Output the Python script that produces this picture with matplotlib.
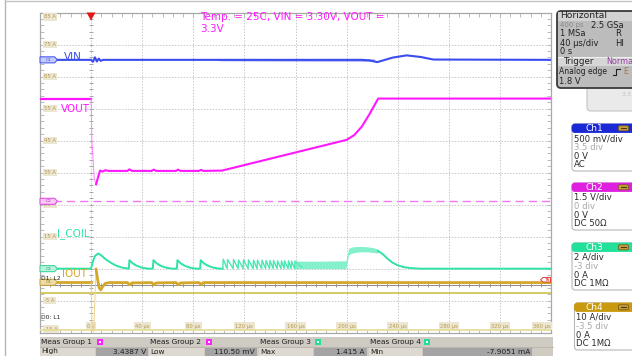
import matplotlib
matplotlib.use('Agg')
import matplotlib.pyplot as plt
from matplotlib.patches import Rectangle, FancyBboxPatch, Polygon
import numpy as np

plt.rcParams['font.family'] = ['DejaVu Sans']

# ---------------- data (time in µs, level in screen units labelled "A") ----------------
time_ticks = [0, 40, 80, 120, 160, 200, 240, 280, 320, 360]
time_labels = ['0 s', '40 µs', '80 µs', '120 µs', '160 µs', '200 µs',
               '240 µs', '280 µs', '320 µs', '360 µs']
level_ticks = [85, 75, 65, 55, 45, 35, 25, 15, 5, -5, -15]
level_labels = ['85 A', '75 A', '65 A', '55 A', '45 A', '35 A', '25 A',
                '15 A', '5 A', '-5 A', '-15 A']

# Ch1 VIN
vin_t = [-40, 0, 1.5, 3.0, 4.5, 6.0, 7.5, 9.5, 212, 218, 224, 236, 247, 258, 268, 360]
vin_v = [70.2, 70.2, 69.6, 71.0, 69.7, 70.6, 69.9, 70.2, 70.2, 70.0, 69.5, 70.9,
         71.6, 71.1, 70.3, 70.2]
vin_band_t = [100, 150, 200, 215, 222]
vin_band_lo = [69.9, 69.8, 69.75, 69.75, 69.8]
vin_band_hi = [70.5, 70.6, 70.65, 70.65, 70.5]

# Ch2 VOUT
vout_pre_t = [-40, 0]
vout_pre_v = [57.9, 57.9]
vout_edge_t = [0, 0.6, 2.5, 3.9]
vout_edge_v = [57.9, 45.0, 33.0, 31.3]
vout_t = [3.9, 5.5, 7.0, 9.0, 11.0, 14, 28.5, 30, 32, 47.5, 49, 51, 66.5, 68, 70,
          84.5, 86, 88, 102.5, 200, 206, 212, 218, 224.7, 360]
vout_v = [31.3, 33.6, 35.6, 35.3, 35.7, 35.5, 35.5, 36.0, 35.5, 35.5, 35.9, 35.5,
          35.5, 35.9, 35.5, 35.5, 35.8, 35.5, 35.6, 45.2, 46.7, 49.4, 53.3, 58.1, 58.1]
vout_ref_level = 26.0

# Ch3 I_COIL
coil_hump_t = [-40, 0, 1.2, 3.0, 5.5, 8, 11, 15, 19, 24, 29.4]
coil_hump_v = [4.95, 4.95, 7.0, 8.9, 9.7, 9.1, 8.0, 6.9, 6.0, 5.3, 4.95]
coil_tooth_t = [29.5, 48.3, 67.1, 85.3]
tooth_shape_dt = [0, 0.5, 3, 6, 10, 15]
tooth_shape_v = [4.95, 7.6, 6.6, 5.9, 5.3, 4.95]
fast_tooth_t = [103.1, 106.5, 111.2, 115.1, 119.0, 122.9, 126.8, 129.9, 133.5,
                136.6, 139.7, 142.5, 145.6, 148.7, 151.1, 154.2, 156.6, 159.3]
fast_tooth_peak = [7.9, 7.8, 7.8, 7.7, 7.7, 7.7, 7.6, 7.6, 7.6, 7.5, 7.5, 7.5,
                   7.4, 7.4, 7.4, 7.4, 7.3, 7.3]
coil_base = 4.95
coil_band_t = [159.3, 165, 180, 199.5, 201.5, 205, 210, 216, 221, 224.5]
coil_band_lo = [4.95, 4.95, 4.95, 4.95, 9.3, 9.9, 10.2, 10.2, 10.0, 9.8]
coil_band_hi = [7.4, 7.3, 7.3, 7.4, 11.3, 11.8, 11.9, 11.8, 11.5, 11.0]
coil_tail_t = [224.5, 228, 232, 236, 240, 245, 250, 258, 360]
coil_tail_v = [10.5, 9.6, 8.1, 6.8, 6.0, 5.4, 5.15, 4.95, 4.95]

# Ch4 IOUT
iout_pre_t = [-40, 0]
iout_pre_v = [0.7, 0.7]
iout_edge_t = [0, 0.8, 2.0, 3.9]
iout_edge_v = [0.7, -14.6, -14.6, 4.8]
iout_t = [3.9, 5.0, 6.3, 7.5, 9.0, 11, 14, 28.5, 30, 32, 47.5, 49, 51, 66.5, 68, 70,
          84.5, 86, 88, 360]
iout_v = [4.8, 1.8, -1.0, -1.7, -0.7, 0.3, 0.6, 0.6, -0.1, 0.5, 0.6, -0.1, 0.5, 0.6,
          -0.1, 0.5, 0.6, 0.0, 0.6, 0.6]

# digital lines
d1_level = -2.6
d0_level = -14.3

# panel texts
horiz_rows = [('400 ps', '2.5 GSa'), ('1 MSa', 'R'), ('40 µs/div', 'HI'), ('0 s', '')]
channels = [
    ('Ch1', '#1a28d6', ['500 mV/div', '3.5 div', '0 V', 'AC']),
    ('Ch2', '#e020e0', ['1.5 V/div', '0 div', '0 V', 'DC 50Ω']),
    ('Ch3', '#22e09a', ['2 A/div', '-3 div', '0 A', 'DC 1MΩ']),
    ('Ch4', '#c9990f', ['10 A/div', '-3.5 div', '0 A', 'DC 1MΩ']),
]
meas_groups = ['Meas Group 1', 'Meas Group 2', 'Meas Group 3', 'Meas Group 4']
meas_names = ['High', 'Low', 'Max', 'Min']
meas_values = ['3.4387 V', '110.50 mV', '1.415 A', '-7.9051 mA']

# ---------------- colours ----------------
C_VIN = '#3a4cee'
C_VOUT = '#ff18ff'
C_COIL = '#2fe3a3'
C_IOUT = '#d4a62a'
C_D1 = '#c9bd3c'
C_D0 = '#e6dd9c'

W, H = 632, 356
fig = plt.figure(figsize=(W / 100, H / 100), dpi=100)
fig.patch.set_facecolor('white')

ax = fig.add_axes([40 / W, 1 - 332.5 / H, 511 / W, 320 / H])
ax.set_xlim(-40, 360)
ax.set_ylim(-15, 85)
ax.set_facecolor('white')
ax.set_xticks(np.arange(-40, 361, 40))
ax.set_yticks(np.arange(-15, 86, 10))
ax.set_xticks(np.arange(-40, 361, 8), minor=True)
ax.set_yticks(np.arange(-15, 86, 2), minor=True)
ax.tick_params(which='both', direction='in', length=3, color='#b0b0b0', width=0.6,
               labelbottom=False, labelleft=False, top=True, right=True)
ax.grid(True, which='major', color='#c8c8c8', lw=0.7, ls=(0, (1.5, 1.5)))
for s in ax.spines.values():
    s.set_color('#a8a8a8')
    s.set_linewidth(0.9)

# crosshair with minor ticks
mx = np.arange(-40, 361, 8)
ax.axhline(0, color='#8c8c8c', lw=0.7, zorder=2)
ax.plot(mx, np.zeros_like(mx), ls='none', marker='|', ms=3, mew=0.6, color='#8c8c8c', zorder=2)
my = np.arange(-15, 86, 2)
ax.plot(np.zeros_like(my), my, ls='none', marker='_', ms=3, mew=0.6, color='#999999', zorder=2)

# axis labels inside the grid
lab_kw = dict(fontsize=3.8, color='#b59a55', zorder=3,
              bbox=dict(boxstyle='square,pad=0.25', fc='#ece5cf', ec='none'))
for lv, lb in zip(level_ticks, level_labels):
    ax.text(-36.8, min(max(lv, -14.0), 83.6), lb, ha='left', va='center', **lab_kw)
for tv, tl in zip(time_ticks, time_labels):
    ax.text(tv, -13.0, tl, ha='right' if tv == 360 else 'center', va='center', **lab_kw)

# digital lines
ax.axhline(d1_level, color=C_D1, lw=1.1, zorder=3)
ax.axhline(d0_level, color=C_D0, lw=1.3, zorder=3)

# VIN
ax.fill_between(vin_band_t, vin_band_lo, vin_band_hi, color='#6a78f2', alpha=0.6, lw=0, zorder=4)
ax.plot(vin_t, vin_v, color=C_VIN, lw=1.5, zorder=5)

# VOUT
ax.axhline(vout_ref_level, color='#f078f0', lw=1.0, dashes=(6, 3.5), zorder=4)
ax.plot(vout_pre_t, vout_pre_v, color=C_VOUT, lw=1.6, zorder=5)
ax.plot(vout_edge_t, vout_edge_v, color='#ff80ff', lw=0.7, zorder=5)
ax.plot(vout_t, vout_v, color=C_VOUT, lw=1.5, zorder=5)

# I_COIL
coil_t = list(coil_hump_t)
coil_v = list(coil_hump_v)
for t0 in coil_tooth_t:
    for dt, v in zip(tooth_shape_dt, tooth_shape_v):
        coil_t.append(t0 + dt)
        coil_v.append(v)
coil_t.append(fast_tooth_t[0])
coil_v.append(coil_base)
ax.plot(coil_t, coil_v, color=C_COIL, lw=1.4, zorder=5)
fast_t, fast_v = [], []
for t0, pk in zip(fast_tooth_t, fast_tooth_peak):
    fast_t += [t0, t0 + 0.3]
    fast_v += [coil_base, pk]
fast_t.append(coil_band_t[1])
fast_v.append(coil_base + 0.4)
ax.plot(fast_t, fast_v, color='#4be8b2', lw=1.0, zorder=5)
ax.fill_between(coil_band_t, coil_band_lo, coil_band_hi, color='#5cebbb', alpha=0.75, lw=0, zorder=5)
ax.plot(coil_tail_t, coil_tail_v, color=C_COIL, lw=1.4, zorder=5)

# IOUT
ax.plot(iout_pre_t, iout_pre_v, color=C_IOUT, lw=2.0, zorder=6)
ax.plot(iout_edge_t, iout_edge_v, color='#ecd48a', lw=0.7, zorder=6)
ax.plot(iout_t, iout_v, color=C_IOUT, lw=2.0, zorder=6)

# channel markers on the left edge
def chan_marker(level, label, fc, ec, tc):
    pts = [(-40, level - 0.95), (-28.6, level - 0.95), (-26.3, level),
           (-28.6, level + 0.95), (-40, level + 0.95)]
    ax.add_patch(Polygon(pts, closed=True, fc=fc, ec=ec, lw=0.7, zorder=8, clip_on=False))
    ax.text(-33.5, level, label, fontsize=3.2, color=tc, ha='center', va='center', zorder=9)

chan_marker(vin_v[0], 'C1', '#c4cafa', '#3a4cee', '#3a4cee')
chan_marker(vout_ref_level, 'C2', '#f8c8f8', '#e040e0', '#c020c0')
chan_marker(coil_base, 'C3', '#b8f2dc', '#2fd598', '#20a070')
chan_marker(iout_pre_v[0], 'C4', '#ecdcaa', '#c9a030', '#a07a10')

# trace names
ax.text(-21.0, vin_v[0] + 1.0, 'VIN', color=C_VIN, fontsize=7.5, va='center', ha='left', zorder=9)
ax.text(-24.0, 55.0, 'VOUT', color=C_VOUT, fontsize=7.5, va='center', ha='left', zorder=9)
ax.text(-26.5, 15.8, 'I_COIL', color=C_COIL, fontsize=7.5, va='center', ha='left', zorder=9)
ax.text(-22.8, 3.4, 'IOUT', color=C_IOUT, fontsize=7.5, va='center', ha='left', zorder=9)
ax.text(-39.5, 1.9, 'D1: L2', color='#202020', fontsize=4.3, va='center', ha='left', zorder=9)
ax.text(-39.5, -10.2, 'D0: L1', color='#202020', fontsize=4.3, va='center', ha='left', zorder=9)
ax.text(85.5, 81.7, 'Temp. = 25C, VIN = 3.30V, VOUT =\n3.3V', color=C_VOUT, fontsize=7.5,
        va='center', ha='left', linespacing=1.15, zorder=9)

# ---------------- overlay in pixel coordinates ----------------
ov = fig.add_axes([0, 0, 1, 1], zorder=5)
ov.set_xlim(0, W)
ov.set_ylim(H, 0)
ov.axis('off')


def box(x0, y0, x1, y1, fc, ec='none', lw=0.8, r=0, z=1):
    if r:
        p = FancyBboxPatch((x0, y0), x1 - x0, y1 - y0,
                           boxstyle=f'round,pad=0,rounding_size={r}',
                           fc=fc, ec=ec, lw=lw, zorder=z)
    else:
        p = Rectangle((x0, y0), x1 - x0, y1 - y0, fc=fc, ec=ec, lw=lw, zorder=z)
    ov.add_patch(p)


def txt(x, y, s, **kw):
    kw.setdefault('fontsize', 6.0)
    kw.setdefault('color', '#222222')
    kw.setdefault('zorder', 5)
    ov.text(x, y, s, va='center', **kw)


# outer frame lines
ov.plot([4.5, 4.5], [0, H], color='#b4b4b4', lw=1.0)
ov.plot([4.5, W], [1, 1], color='#c4c4c4', lw=1.0)

# trigger marker and TA tag
ov.add_patch(Polygon([(86.5, 12.5), (95.5, 12.5), (91, 20.5)], closed=True, fc='#e01818', ec='none', zorder=6))
ov.add_patch(Polygon([(540.5, 279.8), (543, 277.6), (550.5, 277.6), (550.5, 282), (543, 282)],
                     closed=True, fc='white', ec='#e02020', lw=0.6, zorder=6))
txt(546.5, 279.9, 'TA', fontsize=3.2, color='#e02020', ha='center', zorder=7)

# Horizontal panel
box(557, 11, 645, 88, '#bcbcbc', ec='#3a3a3a', lw=1.3, r=4, z=2)
box(558, 12, 640, 20.5, '#d2d2d2', z=3)
box(558, 57, 640, 66, '#d6d6d6', z=3)
ov.plot([558, 640], [56.8, 56.8], color='#f0f0f0', lw=0.8, zorder=4)
txt(560, 16, 'Horizontal', fontsize=6.6)
for i, (a, b) in enumerate(horiz_rows):
    y = 25 + i * 9
    if i == 0:
        txt(560, y, a, color='#8a8a8a', fontsize=5.0)
    else:
        txt(560, y, a)
    if b:
        txt(591 if i == 0 else 615, y, b)
txt(563, 61.5, 'Trigger', fontsize=6.3)
txt(606, 61.5, 'Norma', color='#9a40a8', fontsize=5.8)
txt(559, 72, 'Analog edge', fontsize=5.5)
ov.plot([613, 616, 616, 619.5], [75, 75, 69, 69], color='#222222', lw=0.8, zorder=5)
txt(623, 72, 'E', color='#a07848', fontsize=5.8)
txt(559, 81, '1.8 V')
# light box under panel
box(587, 86, 645, 111, '#eaeaea', ec='#c4c4c4', lw=0.8, r=4, z=1)
txt(622, 94, '3.3', fontsize=4.5, color='#c0c0c0')

# channel boxes
ch_tops = [124, 183, 243, 303]
for (name, col, lines), top in zip(channels, ch_tops):
    x0 = 572 if name != 'Ch4' else 574.5
    box(x0, top, 645, top + 47, 'white', ec='#b8b8b8', lw=0.8, r=3, z=2)
    box(x0, top, 645, top + 8.5, col, ec=col, lw=0.6, r=3, z=3)
    txt(594, top + 4.4, name, color='white', fontsize=6.5, ha='center')
    box(618.5, top + 1.8, 628.5, top + 6.8, '#c8a040', ec='#7a5a18', lw=0.6, r=1.2, z=4)
    ov.plot([621, 626], [top + 4.3, top + 4.3], color='#4a3a10', lw=0.8, zorder=5)
    for j, ln in enumerate(lines):
        txt(574 if name != 'Ch4' else 576, top + 14.5 + j * 8.8, ln,
            color='#a8a8a8' if j == 1 else '#2a2a2a', fontsize=6.1)

# measurement bar
box(39.5, 337, 553, 356, '#cfcbc3', z=2)
ov.plot([39.5, 553], [346.8, 346.8], color='#b8b4ac', lw=0.6, zorder=3)
grp_x = [41, 150, 260, 370]
icon_x = [97, 206, 315, 424]
icon_c = ['#ff20ff', '#ff20ff', '#22e09a', '#22e09a']
val_x1 = [148, 257, 367, 532]
for gx, ix, ic, vx1, g, nm, vv in zip(grp_x, icon_x, icon_c, val_x1, meas_groups,
                                       meas_names, meas_values):
    txt(gx, 342, g, fontsize=5.3, color='#1e1e1e')
    box(ix, 339, ix + 6, 345, ic, z=3)
    box(ix + 2, 341, ix + 4, 343, 'white', z=4)
    box(gx - 1, 347.5, ix - 2, 356, '#ddd9d0', z=3)
    box(ix - 1.5, 347.5, vx1, 356, '#a4a4a4', z=3)
    txt(gx, 351.5, nm, fontsize=5.3, color='#1e1e1e')
    txt(vx1 - 2, 351.5, vv, fontsize=5.3, color='#1e1e1e', ha='right')

fig.savefig('out.png', dpi=100, facecolor='white')
